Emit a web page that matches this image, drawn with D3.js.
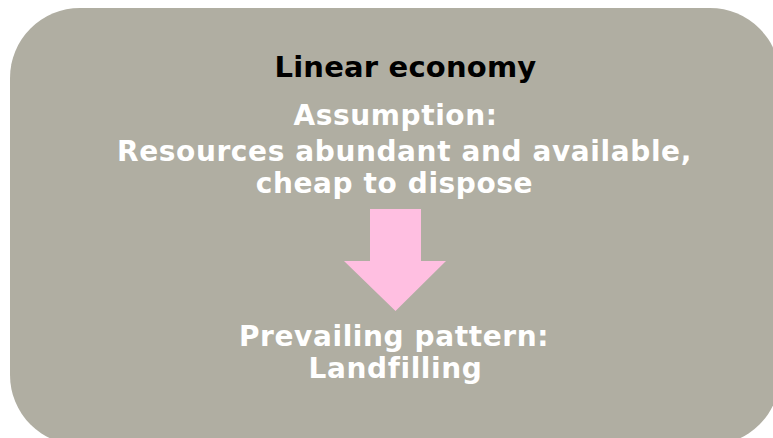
<!DOCTYPE html>
<html><head><meta charset="utf-8">
<script src="https://cdn.jsdelivr.net/npm/d3@7"></script>
<style>html,body{margin:0;padding:0;background:#fff;overflow:hidden}</style>
</head><body>
<script>
const title = "Linear economy";
const assumptionLines = ["Assumption:", "Resources abundant and available,", "cheap to dispose"];
const patternLines = ["Prevailing pattern:", "Landfilling"];

const W = 773, H = 438;
const svg = d3.select("body").append("svg").attr("width", W).attr("height", H);

// rounded box (extends past right and bottom edges like the reference)
svg.append("rect")
  .attr("x", 10).attr("y", 8).attr("width", 770).attr("height", 437)
  .attr("rx", 70).attr("ry", 70)
  .attr("fill", "#b0aea2");

const font = "'DejaVu Sans', Verdana, sans-serif";

svg.append("text")
  .attr("x", 405.5).attr("y", 77)
  .attr("text-anchor", "middle")
  .attr("font-family", font).attr("font-weight", "bold").attr("font-size", 29)
  .attr("letter-spacing", 0.2)
  .attr("fill", "#000")
  .text(title);

const aPos = [{x: 395.5, y: 125}, {x: 404.5, y: 161}, {x: 394.5, y: 193}];
svg.selectAll("text.a").data(assumptionLines).join("text")
  .attr("class", "a")
  .attr("x", (d, i) => aPos[i].x).attr("y", (d, i) => aPos[i].y)
  .attr("text-anchor", "middle")
  .attr("font-family", font).attr("font-weight", "bold").attr("font-size", 28)
  .attr("letter-spacing", 0.6)
  .attr("fill", "#ffffff")
  .text(d => d);

const pPos = [{x: 394, y: 346}, {x: 395.5, y: 378}];
svg.selectAll("text.p").data(patternLines).join("text")
  .attr("class", "p")
  .attr("x", (d, i) => pPos[i].x).attr("y", (d, i) => pPos[i].y)
  .attr("text-anchor", "middle")
  .attr("font-family", font).attr("font-weight", "bold").attr("font-size", 28)
  .attr("letter-spacing", 0.6)
  .attr("fill", "#ffffff")
  .text(d => d);

// down arrow
const arrow = d3.path();
arrow.moveTo(370, 209);
arrow.lineTo(421, 209);
arrow.lineTo(421, 261);
arrow.lineTo(446, 261);
arrow.lineTo(395.5, 311);
arrow.lineTo(344, 261);
arrow.lineTo(370, 261);
arrow.closePath();
svg.append("path").attr("d", arrow.toString()).attr("fill", "#ffbfe1");
</script>
</body></html>
